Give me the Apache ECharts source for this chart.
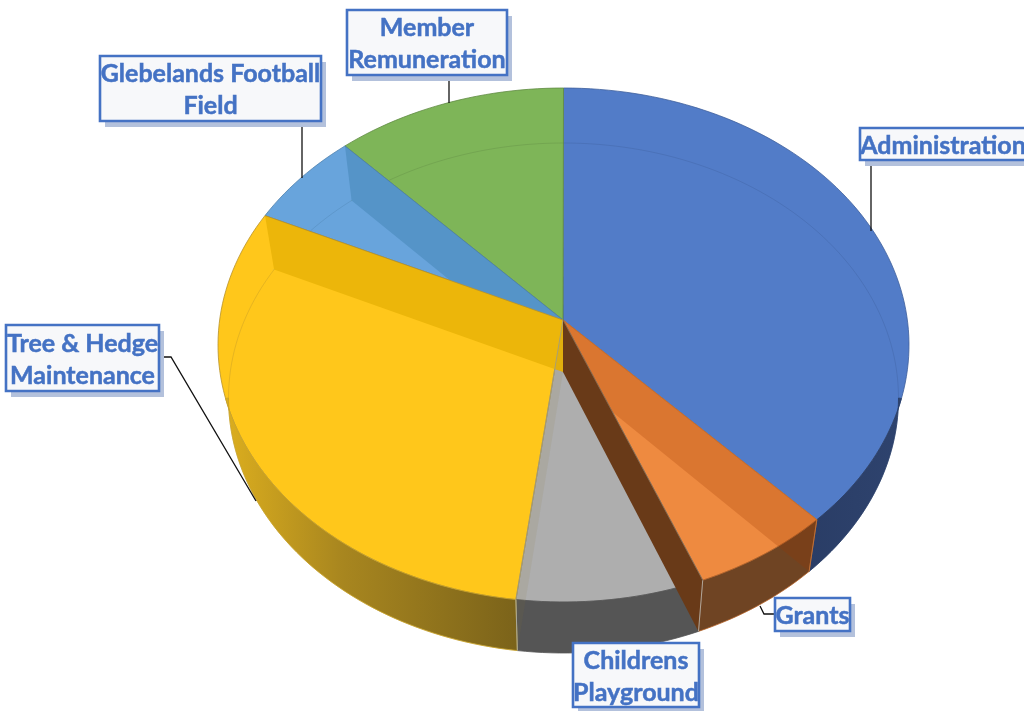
<!DOCTYPE html>
<html>
<head>
<meta charset="utf-8">
<style>html,body{margin:0;padding:0;background:#fff}#c{width:1024px;height:711px}</style>
<script src="https://cdn.jsdelivr.net/npm/echarts@6/dist/echarts.min.js"></script>
</head>
<body>
<div id="c"></div>
<script>
const categories = ['Administration','Grants','Childrens Playground','Tree & Hedge Maintenance','Glebelands Football Field','Member Remuneration'];
const shares = [36.9, 6.5, 8.8, 31.2, 5.7, 10.9];
const labelLines = [['Administration'],['Grants'],['Childrens','Playground'],['Tree & Hedge','Maintenance'],['Glebelands Football','Field'],['Member','Remuneration']];

const topColors = ['#527cc8','#ee8a40','#aeaeae','#ffc71b','#68a4dc','#7eb558'];
const edgeColors = ['#3f5f9c','#c9702f','#8f8f8f','#b8922a','#4d80ad','#5f8a42'];
const total = shares.reduce((a,b)=>a+b,0);
const cum = [0];
shares.forEach(v=>cum.push(cum[cum.length-1]+v));
const angle = i => cum[i]/total*360;

// Perspective geometry of the disc
const TOP = {cx:563.5, cy:345, rx:345.5, ry:257, ax:563, ay:320};
const BOT = {cx:563.5, cy:398, rx:335, ry:255, ax:563, ay:372};
const rim = (e,deg)=>{const r=deg*Math.PI/180;return [e.cx+e.rx*Math.sin(r), e.cy-e.ry*Math.cos(r)];};
const arc = (e,a,b)=>{const n=Math.max(2,Math.ceil(Math.abs(b-a)/1.5));const o=[];for(let k=0;k<=n;k++)o.push(rim(e,a+(b-a)*k/n));return o;};

const sideStyle = [
  {fill:{type:'linear',x:0,y:0,x2:1,y2:0,colorStops:[{offset:0,color:'#2a3d66'},{offset:1,color:'#2e436e'}]},stroke:'#2a3d66'},
  {fill:'#6f4423',stroke:'#b8642a'},
  {fill:'#555555',stroke:'#555555'},
  {fill:{type:'linear',x:0,y:0,x2:1,y2:0,colorStops:[{offset:0,color:'#dcae1e'},{offset:0.4,color:'#a8861f'},{offset:1,color:'#7b631a'}]},stroke:'#c9a32a'}
];
const wallStyle = {
  1:{fill:'rgba(156,55,0,0.24)',seam:'rgba(200,120,60,0.7)',edge:'#c9702f'},
  2:{fill:'#693a18',seam:'#b3a596',edge:'#8a6a4a'},
  3:{fill:'rgba(140,120,50,0.10)',seam:'#a8a89c',edge:'#9a9a8c'},
  4:{fill:'#ecb60a',seam:null,edge:'#b8922a'},
  5:{fill:'#5594c8',seam:null,edge:'#4d80ad'}
};
const labelBoxes = {
  0:{x:860,y:128,w:166,h:32,line:[[871,160],[871,231]]},
  1:{x:775,y:598,w:75,h:33,line:[[760,606],[764,614],[775,614]]},
  2:{x:573,y:643,w:126,h:64,line:null},
  3:{x:6,y:325,w:153,h:66,line:[[159,357],[171,357],[256,501]]},
  4:{x:100,y:56,w:221,h:65,line:[[302,121],[302,178]]},
  5:{x:347,y:10,w:160,h:65,line:[[449,75],[449,103]]}
};

const chart = echarts.init(document.getElementById('c'));
const seriesData = shares.map((v,i)=>[i,v]);
const P = (api,p)=>api.coord(p);
const base = {type:'custom',coordinateSystem:'cartesian2d',silent:true,animation:false,clip:false};

function topFace(params,api){
  const i=params.dataIndex;
  const pts=[[TOP.ax,TOP.ay]].concat(arc(TOP,angle(i),angle(i+1))).map(p=>P(api,p));
  return {type:'polygon',shape:{points:pts},style:{fill:topColors[i],stroke:edgeColors[i],lineWidth:0.8}};
}
function innerLine(params,api){
  const i=params.dataIndex;
  if(i<1||i>2){
    const pts=arc(BOT,angle(i),angle(i+1)).map(p=>P(api,p));
    return {type:'polyline',shape:{points:pts},style:{fill:null,stroke:edgeColors[i],lineWidth:0.8,opacity:0.45}};
  }
  return {type:'group',children:[]};
}
function sideFace(params,api){
  const i=params.dataIndex;
  if(i>3) return {type:'group',children:[]};
  const a=angle(i),b=angle(i+1);
  const aT=i===0?102:a, aB=i===0?90:a;
  const bT=i===3?258:b, bB=i===3?270:b;
  const pts=arc(TOP,aT,bT).concat(arc(BOT,bB,aB)).map(p=>P(api,p));
  return {type:'polygon',shape:{points:pts},style:{fill:sideStyle[i].fill,stroke:sideStyle[i].stroke,lineWidth:0.8}};
}
function wall(params,api){
  const i=api.value(0);
  const deg=angle(i);
  const a=P(api,[TOP.ax,TOP.ay]),t=P(api,rim(TOP,deg)),b=P(api,rim(BOT,deg)),c=P(api,[BOT.ax,BOT.ay]);
  const s=wallStyle[i];
  const kids=[{type:'polygon',shape:{points:[a,t,b,c]},style:{fill:s.fill}},
              {type:'polyline',shape:{points:[a,t]},style:{fill:null,stroke:s.edge,lineWidth:0.8}}];
  if(s.seam) kids.push({type:'polyline',shape:{points:[t,b]},style:{fill:null,stroke:s.seam,lineWidth:1}});
  return {type:'group',children:kids};
}
function label(params,api){
  const i=params.dataIndex,b=labelBoxes[i],kids=[];
  const c=P(api,[b.x,b.y]);
  if(b.line) kids.push({type:'polyline',shape:{points:b.line.map(p=>P(api,p))},style:{fill:null,stroke:'#111',lineWidth:1.3}});
  kids.push({type:'rect',shape:{x:c[0]+5,y:c[1]+6,width:b.w,height:b.h},style:{fill:'#b3c1dc'}});
  kids.push({type:'rect',shape:{x:c[0],y:c[1],width:b.w,height:b.h},style:{fill:'#f7f8fa',stroke:'#4472c4',lineWidth:2.6}});
  const ls=labelLines[i];
  ls.forEach((t,k)=>{
    kids.push({type:'text',style:{text:t,x:c[0]+b.w/2,y:c[1]+b.h/2+1.5+(k-(ls.length-1)/2)*32,fill:'#4472c4',stroke:'#4472c4',lineWidth:0.5,
      font:'bold 25px Lato, "Open Sans", sans-serif',align:'center',verticalAlign:'middle'}});
  });
  return {type:'group',children:kids};
}

chart.setOption({
  animation:false,
  backgroundColor:'#ffffff',
  grid:{left:0,right:0,top:0,bottom:0},
  xAxis:{type:'value',min:0,max:1024,show:false},
  yAxis:{type:'value',min:0,max:711,inverse:true,show:false},
  series:[
    Object.assign({},base,{name:'top',z:2,data:seriesData,renderItem:topFace}),
    Object.assign({},base,{name:'inner',z:3,data:seriesData,renderItem:innerLine}),
    Object.assign({},base,{name:'side',z:4,data:seriesData,renderItem:sideFace}),
    Object.assign({},base,{name:'walls',z:5,data:[[5,0],[4,0],[3,0],[1,0],[2,0]],renderItem:wall}),
    Object.assign({},base,{name:'labels',z:6,data:seriesData,renderItem:label})
  ]
});
</script>
</body>
</html>
